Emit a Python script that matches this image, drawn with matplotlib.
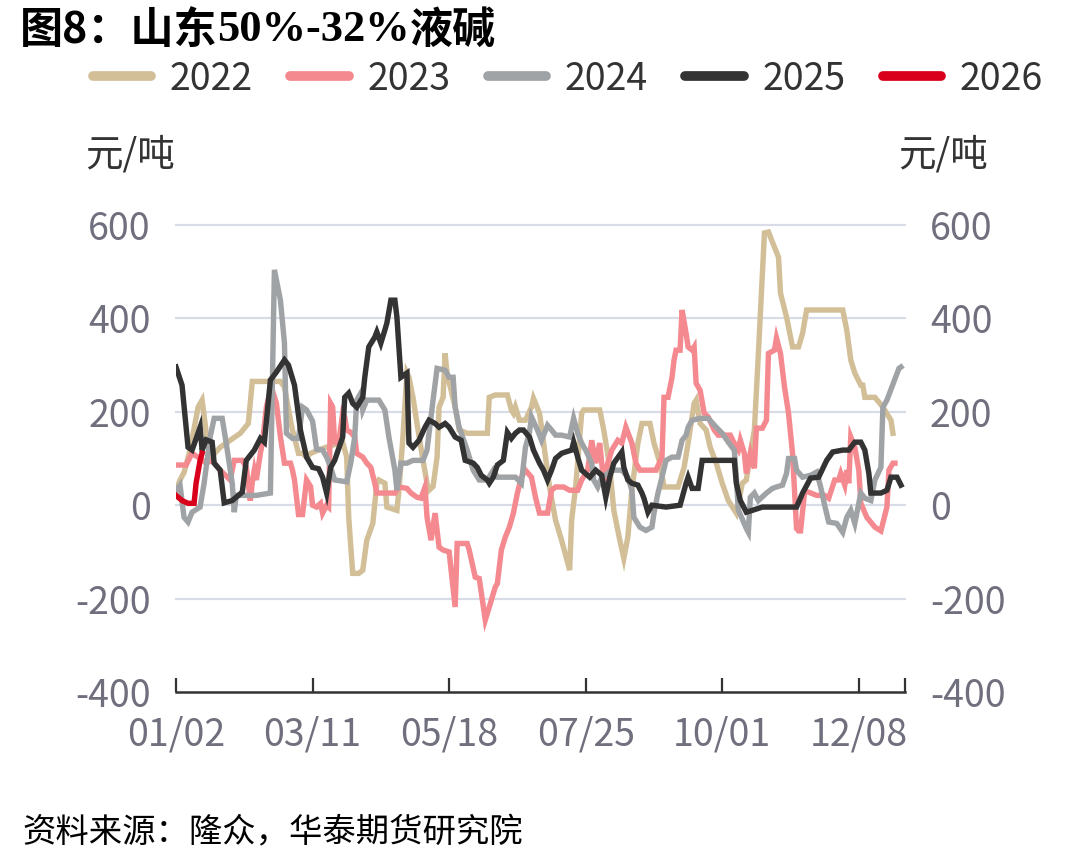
import matplotlib
matplotlib.use('Agg')
import matplotlib.pyplot as plt
from matplotlib.lines import Line2D

plt.rcParams['font.family'] = ['Noto Sans CJK SC', 'DejaVu Sans']

# ---------------- data (day offset from 01/02, value in 元/吨) ----------------
days_2022 = [0, 2, 4, 7, 11, 13, 16, 18, 22, 27, 32, 36, 38, 42, 52, 54, 57, 58, 61, 63, 65, 67, 72, 79, 83, 85,
             86, 88, 91, 93, 95, 98, 100, 101, 104, 105, 110, 111, 113, 115, 116, 118, 120, 123, 125, 126, 128,
             130, 131, 133, 134, 135, 137, 139, 141, 145, 155, 156, 159, 165, 167, 168, 169, 171, 174, 177, 178,
             181, 182, 186, 189, 192, 196, 197, 199, 202, 203, 211, 213, 216, 218, 221, 223, 225, 227, 230, 232,
             236, 238, 241, 243, 250, 253, 255, 258, 259, 261, 264, 266, 269, 272, 275, 279, 282, 284, 286, 288,
             290, 293, 295, 300, 301, 304, 307, 310, 312, 314, 332, 334, 336, 338, 341, 342, 343, 348, 352, 356, 357]
vals_2022 = [30, 54, 70, 118, 210, 225, 124, 105, 124, 139, 154, 175, 265, 265, 265, 253, 182, 161, 111, 111, 103,
             111, 120, 130, 135, 103, -26, -146, -146, -139, -75, -39, 47, 54, 47, -4, -11, 32, 146, 283, 274, 231,
             175, 96, 47, 32, 40, 103, 210, 231, 325, 280, 246, 210, 161, 154, 154, 231, 236, 236, 204, 197, 210,
             182, 182, 210, 229, 197, 167, 39, -32, -75, -139, -32, 39, 197, 204, 204, 161, 81, -11, -75, -114, -68,
             32, 133, 175, 175, 133, 90, 39, 39, 81, 133, 218, 225, 175, 161, 124, 90, 47, 10, -17, 47, 54, 111,
             161, 325, 583, 585, 531, 454, 403, 339, 339, 368, 418, 418, 375, 311, 283, 257, 257, 231, 231, 210,
             182, 154]

days_2023 = [0, 5, 7, 8, 12, 15, 18, 22, 27, 29, 33, 35, 37, 38, 39, 40, 42, 43, 45, 47, 48, 50, 52, 54, 57, 58,
             59, 61, 63, 65, 67, 68, 70, 72, 73, 75, 76, 77, 78, 79, 81, 83, 84, 85, 87, 89, 90, 93, 95, 97, 99,
             100, 109, 111, 115, 117, 120, 122, 124, 125, 127, 129, 131, 133, 136, 139, 140, 145, 146, 149, 151,
             154, 156, 159, 160, 162, 164, 166, 168, 170, 172, 174, 177, 179, 181, 185, 187, 189, 193, 196, 200,
             202, 205, 207, 209, 211, 213, 215, 217, 220, 222, 224, 227, 229, 231, 239, 242, 243, 245, 247, 248,
             249, 251, 252, 254, 255, 257, 258, 259, 261, 263, 265, 268, 270, 276, 279, 280, 281, 283, 284, 286,
             288, 289, 292, 294, 295, 298, 299, 301, 303, 305, 307, 309, 310, 311, 313, 315, 319, 323, 325, 328,
             330, 331, 333, 334, 335, 336, 338, 340, 341, 344, 348, 351, 354, 355, 357, 358]
vals_2023 = [86, 86, 103, 111, 100, 90, 96, 75, 54, 96, 96, 81, 10, 50, 75, 54, 111, 133, 210, 246, 246, 218, 146,
             90, 90, 75, 54, -20, -20, 54, 40, 0, -4, 4, -17, 0, -4, 218, 210, 135, 133, 197, 189, 161, 156, 146,
             111, 103, 90, 81, 47, 26, 26, 39, 36, 26, 17, 15, 39, -26, -75, -17, -90, -96, -100, -218, -82, -82,
             -96, -154, -157, -246, -218, -175, -168, -96, -68, -47, -17, 26, 60, 75, 60, 17, -17, -17, 32, 39, 39,
             32, 32, 54, 75, 139, 90, 133, 47, 90, 118, 139, 133, 167, 133, 90, 75, 75, 103, 231, 231, 274, 311,
             332, 332, 418, 368, 339, 332, 339, 261, 246, 197, 189, 161, 150, 150, 124, 118, 139, 111, 68, 111, 79,
             165, 165, 182, 325, 332, 358, 325, 253, 197, 111, -50, -55, -55, 28, 28, 21, 21, 15, 54, 54, 68, 43,
             75, 47, 146, 124, 75, 4, -26, -47, -55, -4, 75, 90, 90]

days_2024 = [0, 2, 4, 6, 8, 12, 14, 17, 19, 23, 25, 28, 29, 30, 40, 47, 48, 49, 52, 54, 55, 58, 61, 63, 65, 68,
             70, 73, 75, 77, 79, 85, 87, 89, 90, 92, 93, 95, 101, 104, 106, 109, 110, 112, 115, 118, 123, 125, 128,
             130, 134, 136, 138, 139, 141, 145, 148, 151, 155, 158, 160, 169, 172, 174, 176, 177, 180, 182, 185,
             187, 189, 192, 196, 198, 200, 202, 204, 207, 208, 210, 212, 215, 217, 222, 225, 227, 228, 231, 234,
             237, 238, 240, 242, 244, 247, 250, 252, 254, 255, 257, 261, 265, 269, 272, 275, 278, 279, 280, 284,
             285, 286, 288, 290, 294, 297, 299, 302, 304, 305, 308, 309, 312, 316, 319, 321, 323, 325, 329, 332,
             334, 336, 338, 341, 343, 346, 348, 351, 352, 354, 360, 361]
vals_2024 = [32, 43, -26, -36, -15, -4, 47, 146, 186, 186, 133, 47, -15, 21, 21, 26, 261, 504, 439, 347, 154, 143,
             143, 210, 204, 180, 120, 118, 103, 81, 54, 50, 90, 146, 225, 240, 204, 225, 225, 204, 146, 75, 32, 90,
             90, 96, 96, 118, 225, 293, 289, 274, 274, 210, 167, 118, 75, 54, 54, 75, 60, 60, 47, 124, 156, 189,
             161, 139, 171, 161, 150, 150, 146, 186, 154, 133, 118, 90, 54, 39, 60, 68, 75, 75, 60, 32, -26, -47,
             -54, -47, -17, 26, 60, 96, 103, 103, 139, 150, 167, 182, 186, 186, 167, 154, 135, 118, 60, -10, -50,
             -58, 17, 26, 10, 26, 36, 39, 43, 68, 100, 100, 75, 60, 64, 71, 39, 0, -36, -39, -58, -26, -11, -39,
             26, 15, 10, 54, 81, 210, 225, 293, 296]

days_2025 = [0, 3, 6, 8, 9, 12, 13, 15, 18, 19, 22, 24, 28, 33, 35, 39, 42, 44, 47, 50, 54, 56, 59, 62, 65, 68,
             71, 73, 75, 77, 79, 83, 84, 86, 88, 90, 93, 94, 96, 99, 100, 102, 104, 105, 107, 109, 110, 112, 115,
             116, 118, 121, 124, 126, 129, 131, 134, 136, 139, 142, 144, 148, 150, 152, 155, 156, 158, 160, 163,
             165, 167, 169, 171, 173, 176, 178, 181, 183, 185, 187, 189, 192, 194, 197, 198, 200, 202, 206, 209,
             212, 214, 216, 218, 222, 223, 225, 227, 230, 232, 233, 235, 237, 244, 251, 254, 255, 257, 260, 262,
             278, 279, 281, 284, 287, 292, 309, 312, 316, 320, 324, 327, 332, 335, 338, 341, 343, 345, 346, 351,
             354, 356, 359, 361]
vals_2025 = [296, 257, 124, 118, 130, 167, 118, 140, 135, 90, 75, 5, 10, 28, 96, 118, 143, 135, 268, 285, 311, 300,
             257, 160, 103, 81, 78, 60, 26, 81, 96, 146, 231, 240, 218, 210, 231, 274, 339, 360, 371, 347, 375, 390,
             439, 439, 403, 274, 283, 133, 124, 139, 167, 182, 175, 167, 175, 167, 146, 139, 96, 90, 81, 64, 54, 47,
             60, 86, 96, 156, 143, 154, 161, 161, 146, 118, 90, 75, 54, 75, 100, 111, 114, 118, 135, 103, 75, 60, 75,
             64, 17, 60, 90, 114, 81, 54, 47, 43, 26, 15, -15, 0, -4, 0, 47, 60, 36, 36, 96, 96, 47, 10, -15, -11,
             -4, -4, 26, 58, 60, 96, 114, 118, 118, 135, 135, 118, 68, 26, 26, 32, 60, 60, 43]

days_2026 = [0, 3, 6, 9, 10, 12, 13]
vals_2026 = [21, 10, 4, 4, 47, 96, 111]

series_names = ['2022', '2023', '2024', '2025', '2026']
series_colors = ['#D2BF98', '#F4898F', '#A0A3A6', '#333333', '#D9001B']

tick_days = [0, 68, 136, 204, 272, 340]
tick_labels = ['01/02', '03/11', '05/18', '07/25', '10/01', '12/08']
y_ticks = [-400, -200, 0, 200, 400, 600]
x_end = 363

# ---------------- figure ----------------
W, H = 1078, 866
fig = plt.figure(figsize=(W / 100, H / 100), dpi=100)
ax = fig.add_axes([176 / W, 1 - 692 / H, 729 / W, 467 / H])

all_days = [days_2022, days_2023, days_2024, days_2025, days_2026]
all_vals = [vals_2022, vals_2023, vals_2024, vals_2025, vals_2026]
for i, (d, v) in enumerate(zip(all_days, all_vals)):
    ax.plot(d, v, color=series_colors[i], lw=3.9, solid_joinstyle='miter', zorder=3 + i)

ax.set_xlim(0, x_end)
ax.set_ylim(-400, 600)

for v in y_ticks[1:]:
    ax.axhline(v, color='#D9DCE6', lw=1.6, zorder=1, clip_on=False)

for s in ['top', 'left', 'right']:
    ax.spines[s].set_visible(False)
ax.spines['bottom'].set_color('#333333')
ax.spines['bottom'].set_linewidth(1.8)

tick_color = '#6F6F7D'
ax.set_xticks(tick_days)
ax.set_xticklabels(tick_labels)
ax.set_xticks([x_end], minor=True)
ax.tick_params(axis='x', which='both', direction='in', length=10, width=1.6, color='#333333',
               labelsize=27, labelcolor=tick_color, pad=17)
ax.set_yticks(y_ticks)
ax.set_yticklabels([str(v) for v in y_ticks])
ax.tick_params(axis='y', length=0, labelsize=27, labelcolor=tick_color, pad=18,
               labelleft=True, labelright=True)
for tk in ax.yaxis.get_major_ticks():
    tk.label1.set_horizontalalignment('right')
    tk.label2.set_horizontalalignment('left')

# unit labels
fig.text(85 / W, 1 - 155 / H, '元/吨', ha='left', va='center', fontsize=27, color='#333333')
fig.text(898 / W, 1 - 155 / H, '元/吨', ha='left', va='center', fontsize=27, color='#333333')

# legend
handles = [Line2D([0], [0], color=c, lw=7, solid_capstyle='round') for c in series_colors]
fig.legend(handles, series_names, loc='center', bbox_to_anchor=(568 / W, 1 - 79 / H), ncol=5,
           frameon=False, fontsize=27, handlelength=1.55, handletextpad=0.5, columnspacing=1.0,
           labelcolor='#333333')

# title in pieces (CJK bold + serif bold digits)
ty = 1 - 30 / H
fig.canvas.draw()
renderer = fig.canvas.get_renderer()
x = 20
pieces = [('图8：山东', ['Noto Sans CJK SC', 'DejaVu Sans'], 31),
          ('50%-32%', ['Liberation Serif', 'Noto Sans CJK SC'], 32),
          ('液碱', ['Noto Sans CJK SC', 'DejaVu Sans'], 31)]
for txt, fam, fs in pieces:
    t = fig.text(x / W, ty, txt, ha='left', va='center', fontsize=fs, fontweight='bold',
                 family=fam, color='black')
    bb = t.get_window_extent(renderer=renderer)
    x = bb.x1

# source
fig.text(22 / W, 1 - 833 / H, '资料来源：隆众，华泰期货研究院', ha='left', va='center',
         fontsize=24, color='black', style='italic')

fig.savefig('out.png', dpi=100)
